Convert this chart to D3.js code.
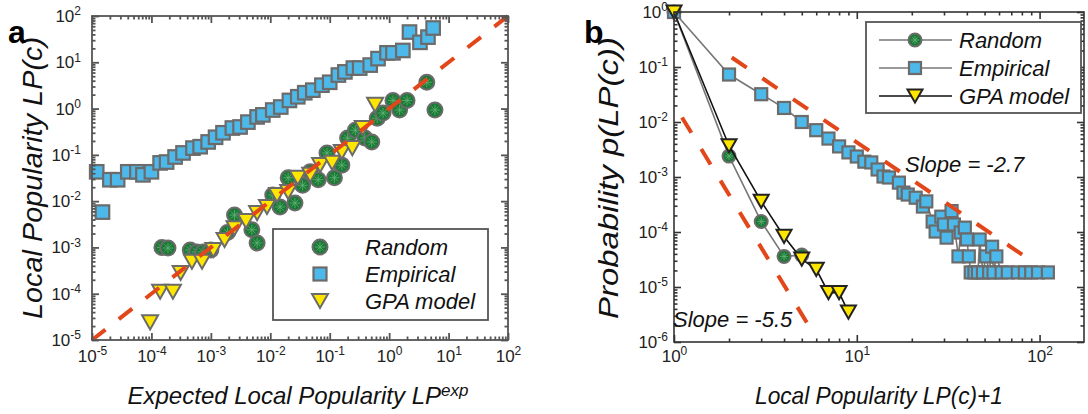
<!DOCTYPE html>
<html>
<head>
<meta charset="utf-8">
<script src="https://cdn.jsdelivr.net/npm/d3@7"></script>
<style>
  html, body { margin: 0; padding: 0; background: #fff; }
  svg { display: block; }
</style>
</head>
<body>
<script>
// ---------------- DATA ----------------
// Panel a: Local popularity vs expected local popularity
const aEmpiricalX = [1.2e-5,1.5e-5,2.0e-5,2.7e-5,4.0e-5,5.7e-5,7.2e-5,1.0e-4,1.4e-4,1.8e-4,2.5e-4,3.4e-4,5.0e-4,6.6e-4,9.0e-4,1.2e-3,1.6e-3,2.3e-3,3.1e-3,4.2e-3,6.0e-3,7.5e-3,0.011,0.015,0.021,0.029,0.038,0.052,0.074,0.10,0.14,0.18,0.25,0.32,0.48,0.65,0.92,1.16,1.7,2.2,3.3,4.5,5.5];
const aEmpiricalY = [0.043,0.0058,0.029,0.029,0.043,0.043,0.037,0.043,0.067,0.070,0.090,0.11,0.14,0.15,0.19,0.24,0.30,0.38,0.40,0.51,0.66,0.73,0.93,1.08,1.5,1.8,2.2,2.5,3.2,3.7,5.3,6.2,7.5,7.5,8.7,12,16,16,18,45,27,35,55];

const aRandomX = [1.5e-4,1.9e-4,4.5e-4,5.8e-4,7.4e-4,1.0e-3,1.9e-3,2.5e-3,4.9e-3,6.0e-3,0.011,0.0146,0.020,0.026,0.035,0.047,0.064,0.090,0.12,0.16,0.20,0.27,0.39,0.51,0.63,0.79,1.16,1.5,2.0,4.3,5.9];
const aRandomY = [1.0e-3,9.7e-4,8.8e-4,8.0e-4,8.0e-4,8.8e-4,2.1e-3,5.0e-3,2.4e-3,1.25e-3,0.0136,7.5e-3,0.032,9.1e-3,0.022,0.043,0.029,0.11,0.032,0.060,0.23,0.34,0.23,0.19,0.62,0.80,1.5,0.93,1.5,3.7,0.93];

const aGpaX = [9.5e-5,1.4e-4,2.3e-4,3.1e-4,4.8e-4,7.1e-4,1.1e-3,1.7e-3,2.5e-3,3.9e-3,6.0e-3,8.8e-3,0.013,0.020,0.029,0.047,0.069,0.11,0.16,0.24,0.36,0.58];
const aGpaY = [2.4e-5,1.1e-4,1.1e-4,2.8e-4,4.9e-4,4.9e-4,8.8e-4,1.45e-3,2.6e-3,3.7e-3,5.5e-3,7.5e-3,0.0136,0.0158,0.032,0.037,0.060,0.067,0.115,0.14,0.38,1.2];

const aRefX = [1e-5, 1e2];
const aRefY = [1e-5, 1e2];

const aXTicks = [1e-5,1e-4,1e-3,1e-2,1e-1,1e0,1e1,1e2];
const aXTickExp = ["-5","-4","-3","-2","-1","0","1","2"];
const aYTicks = [1e-5,1e-4,1e-3,1e-2,1e-1,1e0,1e1,1e2];
const aYTickExp = ["-5","-4","-3","-2","-1","0","1","2"];

// Panel b: distribution of local popularity
const bRandomX = [1,2,3,4,5];
const bRandomY = [1,0.0024,1.55e-4,3.6e-5,3.8e-5];

const bGpaX = [1,2,3,4,5,6,7,8,9];
const bGpaY = [1,0.0037,3.6e-4,8.3e-5,3.2e-5,2.1e-5,7.9e-6,7.9e-6,3.5e-6];

const bEmpiricalX = [1,2,3,4,5,6,7,8,9,10,11,12,13,14,15,17,18,19,21,23,24,26,27,29,30,31,33,34,36,37,39,40,41,42,44,46,47,49,51,53,55,56,58,62,67,76,83,90,98,111];
const bEmpiricalY = [1,0.073,0.032,0.018,0.010,0.0071,0.005,0.0036,0.0028,2.36e-3,1.9e-3,1.84e-3,1.37e-3,1.02e-3,9.8e-4,7.9e-4,5.2e-4,4.8e-4,4.2e-4,2.9e-4,3.6e-4,1.55e-4,1.02e-4,1.9e-4,1.37e-4,7.9e-5,2.4e-4,1.37e-4,3.6e-5,9.8e-5,1.2e-4,7.3e-5,3.6e-5,1.84e-5,1.84e-5,1.84e-5,7.3e-5,1.84e-5,3.6e-5,1.84e-5,5.4e-5,1.84e-5,3.6e-5,1.84e-5,1.84e-5,1.84e-5,1.84e-5,1.84e-5,1.84e-5,1.84e-5];

const bSlope27X = [2.07, 83];
const bSlope27Y = [0.149, 3.6e-5];
const bSlope55X = [1.106, 5.4];
const bSlope55Y = [0.0121, 2.1e-6];

const bXTicks = [1,10,100];
const bXTickExp = ["0","1","2"];
const bYTicks = [1e-6,1e-5,1e-4,1e-3,1e-2,1e-1,1];
const bYTickExp = ["-6","-5","-4","-3","-2","-1","0"];

const legendLabels = ["Random","Empirical","GPA model"];

// ---------------- STYLE ----------------
const C = {
  green: "#1b7a35", greenStar: "#62b276", blue: "#4db9ea", yellow: "#ffe600",
  edge: "#6b6b6b", red: "#e1471b", axisA: "#555", axisB: "#333", text: "#222"
};
const tickFont = "'Liberation Sans', Arial, sans-serif";
const titleFont = "'Liberation Sans', Arial, sans-serif";

const W = 1088, H = 414;
const svg = d3.select("body").append("svg").attr("width", W).attr("height", H);
svg.append("rect").attr("width", W).attr("height", H).attr("fill", "#fff");

// ---------------- SCALES ----------------
const xA = d3.scaleLog().domain([1e-5, 1e2]).range([92, 508]);
const yA = d3.scaleLog().domain([1e-5, 1e2]).range([340, 16]);
const xB = d3.scaleLog().domain([1, 175]).range([674, 1084]);
const yB = d3.scaleLog().domain([1e-6, 1]).range([342, 12]);

// ---------------- HELPERS ----------------
function minorTicks(scale) {
  const [lo, hi] = scale.domain();
  const out = [];
  for (let e = Math.floor(Math.log10(lo)); e <= Math.ceil(Math.log10(hi)); e++) {
    for (let k = 2; k <= 9; k++) {
      const v = k * Math.pow(10, e);
      if (v > lo * 1.0001 && v < hi * 0.9999) out.push(v);
    }
  }
  return out;
}

function powLabels(sel, exps, size, expSize) {
  sel.selectAll(".tick text").each(function(d, i) {
    const t = d3.select(this);
    t.text(null)
     .attr("font-family", tickFont).attr("font-size", size).attr("fill", C.text);
    t.append("tspan").text("10");
    t.append("tspan").attr("dy", "-0.55em").attr("font-size", expSize).text(exps[i]);
  });
}

function drawAxes(g, x, y, xt, xe, yt, ye, color, lw, padX, padY) {
  const [xl, xr] = x.range();
  const [yb, ytop] = y.range();
  const xm = minorTicks(x), ym = minorTicks(y);
  const style = s => { s.select(".domain").remove(); s.selectAll(".tick line").attr("stroke", color).attr("stroke-width", lw); };

  const b = g.append("g").attr("transform", `translate(0,${yb})`)
    .call(d3.axisBottom(x).tickValues(xt).tickSizeInner(-7).tickSizeOuter(0).tickPadding(padX).tickFormat((d, i) => xe[i]));
  style(b); powLabels(b, xe, "17px", "12px");
  b.append("g").call(d3.axisBottom(x).tickValues(xm).tickSize(-3.5).tickFormat("")).call(style);

  const t = g.append("g").attr("transform", `translate(0,${ytop})`)
    .call(d3.axisTop(x).tickValues(xt).tickSizeInner(-7).tickSizeOuter(0).tickFormat(""));
  style(t);
  t.append("g").call(d3.axisTop(x).tickValues(xm).tickSize(-3.5).tickFormat("")).call(style);

  const l = g.append("g").attr("transform", `translate(${xl},0)`)
    .call(d3.axisLeft(y).tickValues(yt).tickSizeInner(-7).tickSizeOuter(0).tickPadding(padY).tickFormat((d, i) => ye[i]));
  style(l); powLabels(l, ye, "17px", "12px");
  l.append("g").call(d3.axisLeft(y).tickValues(ym).tickSize(-3.5).tickFormat("")).call(style);

  const r = g.append("g").attr("transform", `translate(${xr},0)`)
    .call(d3.axisRight(y).tickValues(yt).tickSizeInner(-7).tickSizeOuter(0).tickFormat(""));
  style(r);
  r.append("g").call(d3.axisRight(y).tickValues(ym).tickSize(-3.5).tickFormat("")).call(style);

  g.append("rect").attr("x", xl).attr("y", ytop).attr("width", xr - xl).attr("height", yb - ytop)
    .attr("fill", "none").attr("stroke", color).attr("stroke-width", lw);
}

function circleMarker(g, cx, cy, r, edge) {
  g.append("circle").attr("cx", cx).attr("cy", cy).attr("r", r)
    .attr("fill", C.green).attr("stroke", edge).attr("stroke-width", 2);
  const s = r - 2.5;
  const p = d3.path();
  for (let k = 0; k < 4; k++) {
    const a = k * Math.PI / 4;
    p.moveTo(cx - s * Math.cos(a), cy - s * Math.sin(a));
    p.lineTo(cx + s * Math.cos(a), cy + s * Math.sin(a));
  }
  g.append("path").attr("d", p.toString()).attr("stroke", C.greenStar).attr("stroke-width", 0.8).attr("fill", "none");
}
function squareMarker(g, cx, cy, s, edge) {
  g.append("rect").attr("x", cx - s / 2).attr("y", cy - s / 2).attr("width", s).attr("height", s)
    .attr("fill", C.blue).attr("stroke", edge).attr("stroke-width", 2.2);
}
function triMarker(g, cx, cy, w, edge) {
  const h = w * 0.88;
  g.append("path").attr("d", `M${cx - w / 2},${cy - h / 2}L${cx + w / 2},${cy - h / 2}L${cx},${cy + h / 2}Z`)
    .attr("fill", C.yellow).attr("stroke", edge).attr("stroke-width", 2).attr("stroke-linejoin", "miter");
}

// ---------------- PANEL A ----------------
const gA = svg.append("g");
const plotA = gA.append("g");
aRandomX.forEach((v, i) => circleMarker(plotA, xA(v), yA(aRandomY[i]), 7.5, C.edge));
aEmpiricalX.forEach((v, i) => squareMarker(plotA, xA(v), yA(aEmpiricalY[i]), 13.5, C.edge));
aGpaX.forEach((v, i) => triMarker(plotA, xA(v), yA(aGpaY[i]), 16, C.edge));
plotA.append("path")
  .attr("d", d3.line().x(d => xA(d)).y((d, i) => yA(aRefY[i]))(aRefX))
  .attr("stroke", C.red).attr("stroke-width", 4).attr("stroke-dasharray", "17,17").attr("fill", "none");

drawAxes(gA, xA, yA, aXTicks, aXTickExp, aYTicks, aYTickExp, C.axisA, 1.8, 10, 11);

// legend A
const lgA = gA.append("g");
lgA.append("rect").attr("x", 273).attr("y", 229).attr("width", 215).attr("height", 91)
  .attr("fill", "#fff").attr("stroke", C.axisA).attr("stroke-width", 1.8);
const lgAy = [247, 274, 301];
circleMarker(lgA, 320, lgAy[0], 7.5, C.edge);
squareMarker(lgA, 320, lgAy[1], 13, C.edge);
triMarker(lgA, 320, lgAy[2], 16, C.edge);
legendLabels.forEach((t, i) => lgA.append("text").attr("x", 365).attr("y", lgAy[i] + 8)
  .attr("font-family", tickFont).attr("font-style", "italic").attr("font-size", "22px").attr("fill", "#111").text(t));

// titles A
gA.append("text").attr("x", 298).attr("y", 404).attr("text-anchor", "middle")
  .attr("font-family", titleFont).attr("font-style", "italic").attr("font-size", "24px").attr("fill", "#111")
  .call(t => { t.append("tspan").text("Expected Local Popularity LP"); t.append("tspan").attr("dy", "-0.45em").attr("font-size", "17px").text("exp"); });
gA.append("text").attr("transform", "translate(42,178) rotate(-90)").attr("text-anchor", "middle")
  .attr("font-family", titleFont).attr("font-style", "italic").attr("font-size", "27px").attr("fill", "#111")
  .attr("textLength", 282).attr("lengthAdjust", "spacingAndGlyphs")
  .text("Local Popularity LP(c)");
gA.append("text").attr("x", 8).attr("y", 43).attr("font-family", tickFont).attr("font-weight", "bold")
  .attr("font-size", "32px").attr("fill", "#000").text("a");

// ---------------- PANEL B ----------------
const gB = svg.append("g");
const plotB = gB.append("g");
const lineB = (xs, ys) => d3.line().x(d => xB(d)).y((d, i) => yB(ys[i]))(xs);

plotB.append("path").attr("d", lineB(bRandomX, bRandomY)).attr("stroke", "#777").attr("stroke-width", 1.6).attr("fill", "none");
bRandomX.forEach((v, i) => circleMarker(plotB, xB(v), yB(bRandomY[i]), 6.5, C.edge));
plotB.append("path").attr("d", lineB(bEmpiricalX, bEmpiricalY)).attr("stroke", "#777").attr("stroke-width", 1.6).attr("fill", "none");
bEmpiricalX.forEach((v, i) => squareMarker(plotB, xB(v), yB(bEmpiricalY[i]), 12, C.edge));
plotB.append("path").attr("d", lineB(bGpaX, bGpaY)).attr("stroke", "#111").attr("stroke-width", 1.6).attr("fill", "none");
bGpaX.forEach((v, i) => triMarker(plotB, xB(v), yB(bGpaY[i]), 15, "#222"));

plotB.append("path").attr("d", lineB(bSlope27X, bSlope27Y))
  .attr("stroke", C.red).attr("stroke-width", 4).attr("stroke-dasharray", "18,19").attr("fill", "none");
plotB.append("path").attr("d", lineB(bSlope55X, bSlope55Y))
  .attr("stroke", C.red).attr("stroke-width", 4).attr("stroke-dasharray", "18,19").attr("fill", "none");

drawAxes(gB, xB, yB, bXTicks, bXTickExp, bYTicks, bYTickExp, C.axisB, 1.6, 8, 6);

plotB.append("text").attr("x", 905).attr("y", 172).attr("font-family", tickFont).attr("font-style", "italic")
  .attr("font-size", "22px").attr("fill", "#111").text("Slope = -2.7");
gB.append("text").attr("x", 673).attr("y", 327).attr("font-family", tickFont).attr("font-style", "italic")
  .attr("font-size", "22px").attr("fill", "#111").text("Slope = -5.5");

// legend B
const lgB = gB.append("g");
lgB.append("rect").attr("x", 866).attr("y", 22).attr("width", 215).attr("height", 91)
  .attr("fill", "#fff").attr("stroke", C.axisA).attr("stroke-width", 1.8);
const lgBy = [40, 68, 96];
const lgColors = ["#777", "#777", "#111"];
lgBy.forEach((y, i) => lgB.append("line").attr("x1", 879).attr("x2", 952).attr("y1", y).attr("y2", y)
  .attr("stroke", lgColors[i]).attr("stroke-width", 1.6));
circleMarker(lgB, 915, lgBy[0], 6.5, C.edge);
squareMarker(lgB, 915, lgBy[1], 12, C.edge);
triMarker(lgB, 915, lgBy[2], 15, "#222");
legendLabels.forEach((t, i) => lgB.append("text").attr("x", 959).attr("y", lgBy[i] + 8)
  .attr("font-family", tickFont).attr("font-style", "italic").attr("font-size", "22px").attr("fill", "#111").text(t));

// titles B
gB.append("text").attr("x", 879).attr("y", 404).attr("text-anchor", "middle")
  .attr("font-family", titleFont).attr("font-style", "italic").attr("font-size", "24px").attr("fill", "#111")
  .attr("textLength", 248).attr("lengthAdjust", "spacingAndGlyphs")
  .text("Local Popularity LP(c)+1");
gB.append("text").attr("transform", "translate(618,178) rotate(-90)").attr("text-anchor", "middle")
  .attr("font-family", titleFont).attr("font-style", "italic").attr("font-size", "27px").attr("fill", "#111")
  .attr("textLength", 282).attr("lengthAdjust", "spacingAndGlyphs")
  .text("Probability p(LP(c))");
gB.append("text").attr("x", 584).attr("y", 43).attr("font-family", tickFont).attr("font-weight", "bold")
  .attr("font-size", "32px").attr("fill", "#000").text("b");
</script>
</body>
</html>
